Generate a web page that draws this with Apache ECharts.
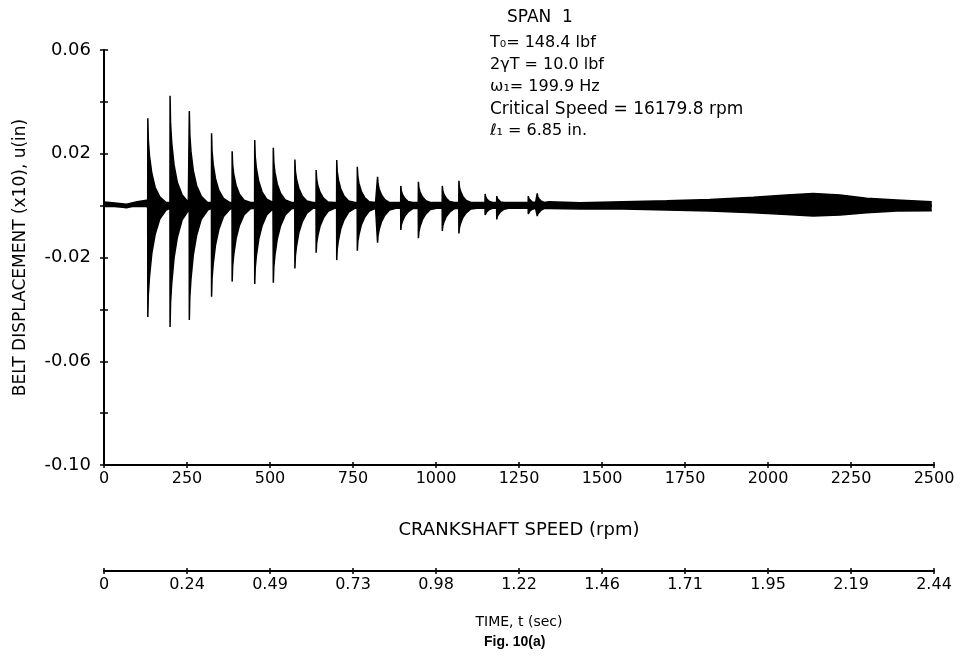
<!DOCTYPE html>
<html><head><meta charset="utf-8">
<script src="https://cdn.jsdelivr.net/npm/echarts@6/dist/echarts.min.js"></script>
<style>html,body{margin:0;padding:0;background:#fff}#c{width:961px;height:660px}</style>
</head><body><div id="c"></div>
<script>
// ---- data ----
const xTickLabels = ['0','250','500','750','1000','1250','1500','1750','2000','2250','2500'];
const timeTickLabels = ['0','0.24','0.49','0.73','0.98','1.22','1.46','1.71','1.95','2.19','2.44'];
const yTickLabels = ['-0.10','-0.06','-0.02','0.02','0.06'];

// trace before the first burst (rpm, upper, lower)
const preRpm    = [0, 25, 68, 100, 128];
const preTop    = [0.0014, 0.0011, 0.0005, 0.0015, 0.0021];
const preBottom = [0.0002, -0.0001, -0.0008, 0.0002, 0.0009];

// transient bursts: onset speed (rpm), peak upper / lower displacement
const burstRpm    = [132, 199, 257, 324, 386, 454, 510, 575, 639, 701, 763, 824, 894, 947, 1019, 1069, 1148, 1183, 1278, 1305];
const burstTop    = [0.0337, 0.0424, 0.0365, 0.0279, 0.0210, 0.0253, 0.0223, 0.0178, 0.0137, 0.0176, 0.0150, 0.0111, 0.0076, 0.0092, 0.0076, 0.0096, 0.0045, 0.0037, 0.0037, 0.0047];
const burstBottom = [-0.0429, -0.0468, -0.0441, -0.0351, -0.0293, -0.0302, -0.0297, -0.0242, -0.0182, -0.0210, -0.0174, -0.0143, -0.0094, -0.0126, -0.0098, -0.0107, -0.0036, -0.0053, -0.0032, -0.0040];
// measured decay of a burst envelope after its onset (rpm offset, fraction of peak)
const decayOffset = [0, 1.5, 5, 12, 22, 36, 55];
const decayTop    = [1, 0.75, 0.57, 0.37, 0.21, 0.1, 0.03];
const decayBottom = [1, 0.8, 0.64, 0.43, 0.26, 0.12, 0.04];
const baseTop = 0.0012, baseBottom = -0.0010;

// steady band after the bursts (rpm, upper, lower)
const lateRpm    = [1340, 1434, 1564, 1695, 1825, 1956, 2056, 2136, 2217, 2297, 2388, 2493];
const lateTop    = [0.0015, 0.0011, 0.0015, 0.0019, 0.0024, 0.0032, 0.0041, 0.0047, 0.0041, 0.0028, 0.0022, 0.0015];
const lateBottom = [-0.0011, -0.0013, -0.0013, -0.0017, -0.0021, -0.0027, -0.0034, -0.0040, -0.0036, -0.0027, -0.0021, -0.0020];

// ---- build envelope ----
const upper = [], lower = [];
preRpm.forEach((x, i) => { upper.push([x, preTop[i]]); lower.push([x, preBottom[i]]); });
burstRpm.forEach((x0, i) => {
  const next = i + 1 < burstRpm.length ? burstRpm[i + 1] : lateRpm[0];
  upper.push([x0 - 0.4, baseTop]); lower.push([x0 - 0.4, baseBottom]);
  for (let k = 0; k < decayOffset.length; k++) {
    const x = x0 + decayOffset[k];
    if (x >= next - 0.5) break;
    upper.push([x, Math.max(baseTop, burstTop[i] * decayTop[k])]);
    lower.push([x, Math.min(baseBottom, burstBottom[i] * decayBottom[k])]);
  }
});
lateRpm.forEach((x, i) => { upper.push([x, lateTop[i]]); lower.push([x, lateBottom[i]]); });

const FONT = 'DejaVu Sans';
const chart = echarts.init(document.getElementById('c'), null, {renderer: 'canvas'});
const xIdx = v => Math.round(v / 250);
const axisBase = {type: 'value', min: 0, max: 2500, interval: 250, splitLine: {show: false}};
const opt = {
  animation: false,
  backgroundColor: '#fff',
  grid: {left: 104, right: 27, top: 50, bottom: 195},
  xAxis: [
    Object.assign({}, axisBase, {
      position: 'bottom',
      name: 'CRANKSHAFT SPEED (rpm)', nameLocation: 'middle', nameGap: 56,
      nameTextStyle: {fontFamily: FONT, fontSize: 18, color: '#000'},
      axisLine: {onZero: false, lineStyle: {color: '#000', width: 2}},
      axisTick: {inside: false, length: 3, lineStyle: {color: '#000', width: 1.5}},
      axisLabel: {fontFamily: FONT, fontSize: 16, color: '#000', margin: 6, formatter: v => xTickLabels[xIdx(v)]}
    }),
    Object.assign({}, axisBase, {
      position: 'bottom', offset: 106,
      name: 'TIME, t (sec)', nameLocation: 'middle', nameGap: 44,
      nameTextStyle: {fontFamily: FONT, fontSize: 14, color: '#000'},
      axisLine: {onZero: false, lineStyle: {color: '#000', width: 2}},
      axisTick: {inside: false, length: 3, lineStyle: {color: '#000', width: 1.5}},
      axisLabel: {fontFamily: FONT, fontSize: 16, color: '#000', margin: 6, formatter: v => timeTickLabels[xIdx(v)]}
    }),
    Object.assign({}, axisBase, {
      position: 'bottom', axisLine: {show: false, onZero: false},
      axisTick: {inside: true, length: 3, lineStyle: {color: '#000', width: 1.5}}, axisLabel: {show: false}
    }),
    Object.assign({}, axisBase, {
      position: 'bottom', offset: 106, axisLine: {show: false, onZero: false},
      axisTick: {inside: true, length: 3, lineStyle: {color: '#000', width: 1.5}}, axisLabel: {show: false}
    })
  ],
  yAxis: [
    {
      type: 'value', min: -0.10, max: 0.06, interval: 0.02, position: 'left',
      name: 'BELT DISPLACEMENT (x10), u(in)', nameLocation: 'middle', nameGap: 75,
      nameTextStyle: {fontFamily: FONT, fontSize: 17, color: '#000'},
      splitLine: {show: false},
      axisLine: {show: true, onZero: false, lineStyle: {color: '#000', width: 2}},
      axisTick: {inside: false, length: 4, lineStyle: {color: '#000', width: 1.5}},
      axisLabel: {fontFamily: FONT, fontSize: 18, color: '#000', margin: 13,
        formatter: v => yTickLabels.find(l => Math.abs(parseFloat(l) - v) < 1e-9) || ''}
    },
    {
      type: 'value', min: -0.10, max: 0.06, interval: 0.02, position: 'left',
      splitLine: {show: false}, axisLine: {show: false, onZero: false},
      axisTick: {inside: true, length: 4, lineStyle: {color: '#000', width: 1.5}}, axisLabel: {show: false}
    }
  ],
  graphic: [
    {type: 'text', left: 507, top: 9, style: {text: 'SPAN  1', font: '17px ' + FONT, fill: '#000'}},
    {type: 'text', left: 490, top: 35, style: {text: 'T\u2080= 148.4 lbf', font: '16px ' + FONT, fill: '#000'}},
    {type: 'text', left: 490, top: 57, style: {text: '2\u03B3T = 10.0 lbf', font: '16px ' + FONT, fill: '#000'}},
    {type: 'text', left: 490, top: 79, style: {text: '\u03C9\u2081= 199.9 Hz', font: '16px ' + FONT, fill: '#000'}},
    {type: 'text', left: 490, top: 101, style: {text: 'Critical Speed = 16179.8 rpm', font: '17px ' + FONT, fill: '#000'}},
    {type: 'text', left: 490, top: 123, style: {text: '\u2113\u2081 = 6.85 in.', font: '16px ' + FONT, fill: '#000'}},
    {type: 'text', left: 484, top: 635, style: {text: 'Fig. 10(a)', font: 'bold 14px Liberation Sans', fill: '#000'}}
  ],
  series: [
    {type: 'line', name: 'upper', data: upper, xAxisIndex: 0, yAxisIndex: 0, showSymbol: false, symbol: 'none',
     lineStyle: {color: '#000', width: 1.5}, areaStyle: {color: '#000', opacity: 1, origin: -0.0006}, z: 3},
    {type: 'line', name: 'lower', data: lower, xAxisIndex: 0, yAxisIndex: 0, showSymbol: false, symbol: 'none',
     lineStyle: {color: '#000', width: 1.5}, areaStyle: {color: '#000', opacity: 1, origin: 0.0006}, z: 3}
  ]
};
chart.setOption(opt);
</script>
</body></html>
